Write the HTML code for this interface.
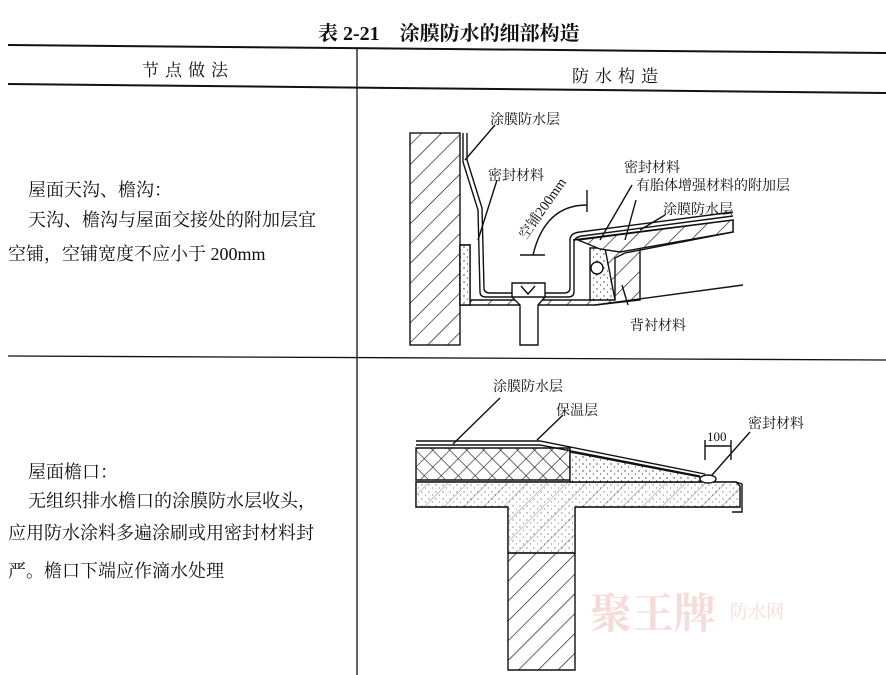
<!DOCTYPE html>
<html><head><meta charset="utf-8"><style>
html,body{margin:0;padding:0;background:#fff;}
svg{display:block}
text{font-family:"Liberation Serif","Noto Serif CJK SC","Noto Sans CJK SC",serif;fill:#111}
</style></head><body>
<svg width="886" height="675" viewBox="0 0 886 675" xmlns="http://www.w3.org/2000/svg">
<defs>
<pattern id="h" width="14" height="14" patternUnits="userSpaceOnUse" patternTransform="rotate(45)">
<rect width="14" height="14" fill="#fff"/><line x1="0" y1="0" x2="0" y2="14" stroke="#111" stroke-width="1.3"/></pattern>
<pattern id="x" width="12" height="12" patternUnits="userSpaceOnUse" patternTransform="rotate(45)">
<rect width="12" height="12" fill="#fff"/><line x1="0" y1="0" x2="0" y2="12" stroke="#111" stroke-width="1.2"/><line x1="0" y1="0" x2="12" y2="0" stroke="#111" stroke-width="1.2"/></pattern>
<pattern id="d" width="7" height="7" patternUnits="userSpaceOnUse">
<rect width="7" height="7" fill="#fff"/><circle cx="2" cy="2" r="0.7" fill="#333"/><circle cx="5.5" cy="5" r="0.6" fill="#333"/></pattern>
</defs>
<!-- title -->
<text x="318" y="40" font-size="20" font-weight="bold" font-family="Liberation Sans, Noto Sans CJK SC, sans-serif">表 2-21　涂膜防水的细部构造</text>
<!-- table lines -->
<line x1="8" y1="45" x2="886" y2="53" stroke="#111" stroke-width="2"/>
<line x1="8" y1="84" x2="886" y2="93" stroke="#111" stroke-width="2"/>
<line x1="357" y1="48" x2="357" y2="675" stroke="#111" stroke-width="1.3"/>
<line x1="8" y1="356" x2="886" y2="360" stroke="#111" stroke-width="1.3"/>
<text x="142" y="76" font-size="17" letter-spacing="6">节点做法</text>
<text x="572" y="82" font-size="17" letter-spacing="6">防水构造</text>
<!-- left texts -->
<g font-size="18">
<text x="28" y="196">屋面天沟、檐沟：</text>
<text x="28" y="226">天沟、檐沟与屋面交接处的附加层宜</text>
<text x="8" y="260">空铺，空铺宽度不应小于 200mm</text>
<text x="28" y="478">屋面檐口：</text>
<text x="28" y="507">无组织排水檐口的涂膜防水层收头，</text>
<text x="8" y="539">应用防水涂料多遍涂刷或用密封材料封</text>
<text x="8" y="577">严。檐口下端应作滴水处理</text>
</g>
<!-- diagram 1 -->
<g stroke="#111" stroke-width="1.4" fill="none">
<rect x="410" y="133" width="50" height="212" fill="url(#h)"/>
<rect x="410" y="133" width="50" height="212" fill="none" stroke="none"/>
<polygon points="460,245 470,245 470,300 595,300 595,248 640,243 640,300 595,305 460,305" fill="url(#h)"/>
<polygon points="460,245 470,245 470,305 460,305" fill="url(#d)"/>
<polygon points="590,248 605,248 615,300 590,300" fill="url(#d)"/>
<circle cx="597" cy="268" r="6" fill="#fff"/>
<path d="M573,240 L733,220 L733,232 L625,253 L615,258 L615,300"/>
<polygon points="578,240 733,220 733,232 620,252 600,249" fill="url(#h)"/>
<path d="M595,305 L743,285"/>
<path d="M463,133 L463,162 L478,210 L480,292 Q480,297 486,297 L568,297 Q574,297 574,292 L574,243 Q574,237 582,236 L733,216"/>
<path d="M467,133 L467,160 L482,208 L484,288 Q484,293 490,293 L564,293 Q570,293 570,288 L570,240 Q570,233 580,232 L733,212"/>
<polygon points="512,283 545,283 545,297 538,305 538,345 520,345 520,305 512,297" fill="#fff"/>
<line x1="512" y1="297" x2="545" y2="297"/>
<path d="M521,286 L528,294 L535,286"/>
<line x1="495" y1="125" x2="465" y2="160"/>
<line x1="497" y1="180" x2="478" y2="240"/>
<line x1="632" y1="185" x2="600" y2="240"/>
<line x1="636" y1="200" x2="625" y2="240"/>
<line x1="665" y1="215" x2="640" y2="230"/>
<line x1="622" y1="285" x2="628" y2="305"/>
<path d="M587,205 Q545,205 533,255"/>
<line x1="587" y1="190" x2="587" y2="212"/>
<line x1="520" y1="255" x2="545" y2="255"/>
</g>
<g font-size="14">
<text x="490" y="124">涂膜防水层</text>
<text x="488" y="180">密封材料</text>
<text x="624" y="172">密封材料</text>
<text x="636" y="190">有胎体增强材料的附加层</text>
<text x="663" y="214">涂膜防水层</text>
<text x="630" y="330">背衬材料</text>
<text x="0" y="0" transform="translate(526,240) rotate(-55)">空铺200mm</text>
</g>
<!-- diagram 2 -->
<g stroke="#111" stroke-width="1.4">
<polygon points="416,482 736,482 740,486 740,507 575,507 575,670 508,670 508,507 416,507" fill="url(#h)"/>
<polygon points="416,482 736,482 740,486 740,507 575,507 575,553 508,553 508,507 416,507" fill="url(#d)" opacity="0.6"/>
<line x1="508" y1="553" x2="575" y2="553"/>
<polygon points="416,448 570,448 570,480 416,480" fill="url(#x)"/>
<polygon points="570,452 700,477 700,482 570,482" fill="url(#d)"/>
<path d="M416,445 L540,445 L700,476" fill="none"/>
<path d="M416,441 L540,441 L705,474" fill="none"/>
<ellipse cx="708" cy="479" rx="8" ry="4" fill="#fff"/>
<path d="M736,482 L742,484 L742,512 L732,512" fill="none"/>
<line x1="453" y1="444" x2="500" y2="398"/>
<line x1="537" y1="440" x2="563" y2="415"/>
<line x1="712" y1="475" x2="750" y2="432"/>
<line x1="705" y1="440" x2="705" y2="460"/>
<line x1="731" y1="440" x2="731" y2="460"/>
<line x1="705" y1="446" x2="731" y2="446"/>
</g>
<g font-size="14">
<text x="493" y="391">涂膜防水层</text>
<text x="556" y="415">保温层</text>
<text x="748" y="428">密封材料</text>
<text x="707" y="441" font-size="13">100</text>
</g>
<text x="590" y="628" font-size="42" font-weight="bold" fill="#f4d6d2" style="fill:#f5dcd8" font-family="Noto Sans CJK SC, sans-serif">聚王牌</text>
<text x="730" y="618" font-size="18" style="fill:#f5dcd8" font-family="Noto Sans CJK SC, sans-serif">防水网</text>
</svg>
</body></html>
